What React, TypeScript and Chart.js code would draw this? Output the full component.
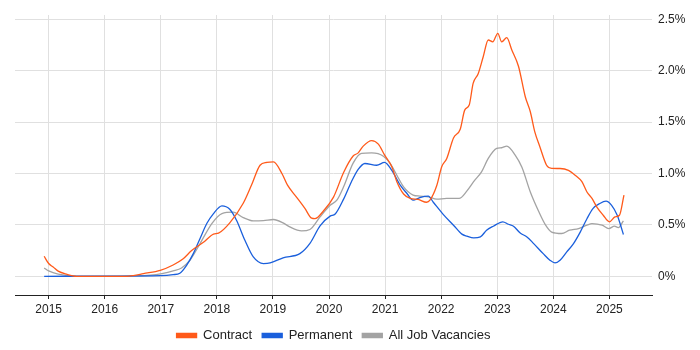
import React, { useEffect, useRef } from "react";
import { Chart, registerables } from "chart.js";

Chart.register(...registerables);

const yearTicks = [2015, 2016, 2017, 2018, 2019, 2020, 2021, 2022, 2023, 2024, 2025];
const percentTicks = [0, 0.5, 1, 1.5, 2, 2.5];

const contractDates = [
  2014.92, 2015.0, 2015.08, 2015.17, 2015.32, 2015.5, 2016.39, 2016.51, 2016.69, 2016.99,
  2017.22, 2017.4, 2017.55, 2017.76, 2017.94, 2018.03, 2018.23, 2018.47, 2018.62, 2018.77,
  2018.89, 2019.01, 2019.16, 2019.26, 2019.42, 2019.57, 2019.69, 2019.75, 2019.9, 2020.08,
  2020.26, 2020.43, 2020.52, 2020.61, 2020.76, 2020.88, 2020.99, 2021.12, 2021.21, 2021.33,
  2021.45, 2021.59, 2021.74, 2021.8, 2021.92, 2022.01, 2022.1, 2022.22, 2022.34, 2022.42,
  2022.5, 2022.57, 2022.66, 2022.75, 2022.84, 2022.92, 2023.01, 2023.08, 2023.17, 2023.26,
  2023.38, 2023.5, 2023.59, 2023.67, 2023.76, 2023.88, 2023.97, 2024.12, 2024.27, 2024.39,
  2024.51, 2024.6, 2024.69, 2024.78, 2024.89, 2025.0, 2025.1, 2025.18, 2025.26,
];
const contractValues = [
  0.195, 0.124, 0.09, 0.05, 0.02, 0.0, 0.0, 0.007, 0.026, 0.058,
  0.11, 0.17, 0.25, 0.33, 0.41, 0.42, 0.52, 0.71, 0.89, 1.08,
  1.107, 1.113, 1.0, 0.886, 0.77, 0.66, 0.565, 0.56, 0.635, 0.77,
  1.01, 1.17, 1.2, 1.266, 1.32, 1.285, 1.18, 1.065, 0.92, 0.8,
  0.757, 0.747, 0.72, 0.74, 0.88, 1.065, 1.146, 1.345, 1.43, 1.616,
  1.665, 1.876, 1.97, 2.135, 2.298, 2.28, 2.363, 2.28, 2.32, 2.2,
  2.04, 1.746, 1.6, 1.405, 1.26, 1.08, 1.05, 1.048, 1.03, 0.983,
  0.92, 0.82, 0.757, 0.67, 0.594, 0.53, 0.577, 0.594, 0.79,
];

const permanentDates = [
  2014.92, 2016.99, 2017.22, 2017.34, 2017.46, 2017.58, 2017.7, 2017.82, 2017.94, 2018.09,
  2018.23, 2018.35, 2018.5, 2018.65, 2018.83, 2018.95, 2019.18, 2019.48, 2019.66, 2019.84,
  2020.02, 2020.11, 2020.26, 2020.4, 2020.52, 2020.64, 2020.85, 2020.99, 2021.12, 2021.27,
  2021.39, 2021.5, 2021.62, 2021.77, 2021.86, 2022.04, 2022.22, 2022.37, 2022.46, 2022.58,
  2022.7, 2022.81, 2022.93, 2023.1, 2023.2, 2023.29, 2023.41, 2023.53, 2023.65, 2023.82,
  2023.94, 2024.03, 2024.12, 2024.24, 2024.36, 2024.48, 2024.6, 2024.71, 2024.83, 2024.94,
  2025.04, 2025.14, 2025.2, 2025.25,
];
const permanentValues = [
  0.0, 0.007, 0.016, 0.03, 0.107, 0.22, 0.367, 0.513, 0.61, 0.685,
  0.652, 0.545, 0.35, 0.188, 0.124, 0.13, 0.18, 0.22, 0.32, 0.49,
  0.585, 0.605, 0.75, 0.92, 1.04, 1.097, 1.08, 1.107, 1.03, 0.886,
  0.805, 0.74, 0.766, 0.78, 0.72, 0.6, 0.497, 0.41, 0.39, 0.373,
  0.383, 0.448, 0.487, 0.53, 0.506, 0.487, 0.42, 0.383, 0.318, 0.22,
  0.156, 0.13, 0.156, 0.237, 0.318, 0.43, 0.56, 0.66, 0.708, 0.73,
  0.69, 0.594, 0.497, 0.406,
];

const allJobsDates = [
  2014.92, 2015.0, 2015.17, 2015.5, 2016.45, 2016.81, 2017.02, 2017.22, 2017.37, 2017.52,
  2017.7, 2017.91, 2018.09, 2018.29, 2018.47, 2018.65, 2018.83, 2019.01, 2019.18, 2019.3,
  2019.51, 2019.66, 2019.84, 2020.02, 2020.14, 2020.26, 2020.43, 2020.58, 2020.76, 2020.97,
  2021.09, 2021.21, 2021.33, 2021.5, 2021.62, 2021.77, 2021.92, 2022.1, 2022.32, 2022.46,
  2022.6, 2022.72, 2022.84, 2022.99, 2023.08, 2023.17, 2023.32, 2023.44, 2023.59, 2023.74,
  2023.86, 2023.97, 2024.15, 2024.29, 2024.45, 2024.6, 2024.69, 2024.87, 2024.99, 2025.09,
  2025.16, 2025.25,
];
const allJobsValues = [
  0.081, 0.052, 0.02, 0.0, 0.003, 0.01, 0.026, 0.052, 0.081, 0.156,
  0.318, 0.513, 0.61, 0.623, 0.571, 0.539, 0.542, 0.552, 0.519, 0.48,
  0.441, 0.455, 0.577, 0.69, 0.74, 0.87, 1.1, 1.195, 1.2, 1.168,
  1.097, 0.983, 0.87, 0.79, 0.78, 0.773, 0.75, 0.757, 0.757, 0.83,
  0.935, 1.016, 1.146, 1.243, 1.25, 1.266, 1.178, 1.06, 0.82, 0.63,
  0.5, 0.43, 0.416, 0.448, 0.464, 0.497, 0.513, 0.497, 0.464, 0.487,
  0.474, 0.539,
];

const toPoints = (xs: number[], ys: number[]) => xs.map((x, i) => ({ x, y: ys[i] }));

const legendShift = {
  id: "legendShift",
  afterLayout(chart: any) {
    const lg = chart.legend;
    const ca = chart.chartArea;
    if (!lg || !ca) return;
    lg.left = ca.left;
    lg.right = ca.right;
    lg.width = ca.right - ca.left;
    lg.top += 2;
    lg.bottom += 2;
  },
};

export default function App() {
  const canvasRef = useRef<HTMLCanvasElement | null>(null);

  useEffect(() => {
    if (!canvasRef.current) return;
    Chart.defaults.font.family = "'Liberation Sans', Arial, sans-serif";
    const chart = new Chart(canvasRef.current, {
      type: "line",
      data: {
        datasets: [
          {
            label: "Contract",
            data: toPoints(contractDates, contractValues),
            borderColor: "#ff5a1a",
            backgroundColor: "#ff5a1a",
            borderWidth: 1.3,
            pointRadius: 0,
            cubicInterpolationMode: "monotone",
          },
          {
            label: "Permanent",
            data: toPoints(permanentDates, permanentValues),
            borderColor: "#1a5fdc",
            backgroundColor: "#1a5fdc",
            borderWidth: 1.3,
            pointRadius: 0,
            cubicInterpolationMode: "monotone",
          },
          {
            label: "All Job Vacancies",
            data: toPoints(allJobsDates, allJobsValues),
            borderColor: "#a3a3a3",
            backgroundColor: "#a3a3a3",
            borderWidth: 1.3,
            pointRadius: 0,
            cubicInterpolationMode: "monotone",
          },
        ],
      },
      plugins: [legendShift],
      options: {
        animation: false,
        responsive: true,
        maintainAspectRatio: false,
        layout: { padding: { left: 15, top: 15, right: 0, bottom: 0 } },
        plugins: {
          tooltip: { enabled: false },
          legend: {
            position: "bottom",
            labels: {
              boxWidth: 20,
              boxHeight: 4,
              padding: 10,
              color: "#222",
              font: { size: 13 },
            },
          },
        },
        scales: {
          x: {
            type: "linear",
            min: 2014.4,
            max: 2025.76,
            afterBuildTicks: (scale: any) => {
              scale.ticks = yearTicks.map((v) => ({ value: v }));
            },
            afterFit: (scale: any) => {
              scale.height = 22;
            },
            ticks: {
              padding: 3,
              color: "#222",
              font: { size: 12 },
              maxRotation: 0,
              autoSkip: false,
              callback: (v: any) => String(v),
            },
            grid: {
              color: "#e0e0e0",
              tickLength: 4,
              tickColor: "#222",
            },
            border: { display: true, color: "#222", width: 1 },
          },
          y: {
            type: "linear",
            position: "right",
            min: -0.182,
            max: 2.541,
            afterBuildTicks: (scale: any) => {
              scale.ticks = percentTicks.map((v) => ({ value: v }));
            },
            afterFit: (scale: any) => {
              scale.width = 48;
            },
            ticks: {
              padding: 6,
              color: "#222",
              font: { size: 12 },
              callback: (v: any) => (v === 0 ? "0%" : Number(v).toFixed(1) + "%"),
            },
            grid: { color: "#e0e0e0", drawTicks: false },
            border: { display: false },
          },
        },
      },
    });
    return () => chart.destroy();
  }, []);

  return (
    <div style={{ position: "fixed", left: 0, top: 0, width: "700px", height: "350px", background: "#fff" }}>
      <canvas ref={canvasRef} />
    </div>
  );
}
